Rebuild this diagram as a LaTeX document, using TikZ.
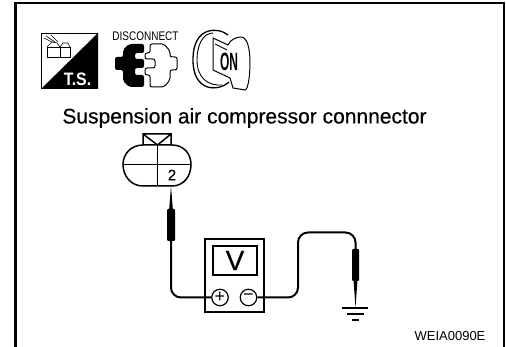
\documentclass[tikz,border=0pt]{standalone}
\usepackage{fontspec}
\setmainfont{Liberation Sans}
\newfontfamily\heavyfont{Liberation Sans}[FakeBold=0.4]
\usepackage{tikz}
\usetikzlibrary{calc}
\usetikzlibrary{positioning}

\tikzset{
	wire/.style={draw, line width=2pt, rounded corners=10pt},
	tip/.style={fill=black, draw=none},
	probe/.style={fill=black, draw=none, rounded corners=1pt},
	part/.style={draw, line width=1.5pt},
	jack/.style={draw, fill=white, circle, line width=1.2pt, minimum size=16.5pt, inner sep=0pt, font=\fontsize{18}{18}\selectfont},
}

\begin{document}
\begin{tikzpicture}[x=1pt, y=-1pt]
	\useasboundingbox (0,0) rectangle (506,347);
	\fill[white] (0,0) rectangle (506,347);
	% frame
	\draw[line width=2.6pt] (15.3,347) -- (15.3,3) -- (504,3) -- (504,347);

	% T.S. icon
	\fill (98,33) -- (98,89) -- (41,89) -- cycle;
	\draw[line width=1pt] (41.5,33.5) rectangle (97.5,88.5);
	\draw[line width=0.6pt] (47,47) rectangle (60,57) (60,47) rectangle (70,57);
	\draw[line width=0.6pt] (47,47) -- (52,42) -- (57,43) -- (60,47) (60,47) -- (63,43) -- (68,43) -- (70,47);
	\draw[line width=0.6pt] (55,42) -- (46,36) (52,42) -- (44,38) (58,42) -- (51,35);
	\node[text=white, font=\bfseries\fontsize{18}{18}\selectfont, inner sep=0pt] (tslabel) at (77.5,79) {\scalebox{0.88}[1]{T.S.}};

	% disconnect icon
	\node[font=\fontsize{12.5}{13}\selectfont, inner sep=0pt] (disc) at (145.5,36) {\scalebox{0.8}[1]{DISCONNECT}};
	\fill[rounded corners=2pt] (144,44) -- (129,44) -- (123,50) -- (123,57) -- (115,57) -- (115,70) -- (123,70) -- (123,81) -- (129,87) -- (144,87) -- (144,75) -- (135,75) -- (135,68) -- (144,68) -- (144,59) -- (135,59) -- (135,53) -- (144,53) -- cycle;
	\draw[line width=1pt, rounded corners=2pt] (150,44) -- (164,44) -- (170,51) -- (170,57) -- (177,57) -- (177,70) -- (170,70) -- (170,80) -- (164,87) -- (150,87) -- (150,75) -- (145,75) -- (145,68) -- (155,68) -- (155,59) -- (145,59) -- (145,53) -- (150,53) -- cycle;

	% key icon
	\draw[line width=1.3pt] (228,35) .. controls (220,28) and (193,24) .. (193,60) .. controls (193,92) and (218,92) .. (229,82);
	\draw[line width=0.9pt] (213,33) .. controls (203,33) and (197,45) .. (197,60) .. controls (197,78) and (208,86) .. (222,85);
	\draw[line width=1pt, fill=white] (213,38) -- (228,45) .. controls (230,40) and (236,37) .. (241,37) .. controls (247,37) and (250,48) .. (250,62) .. controls (250,76) and (248,90) .. (245,90) -- (233,88) -- (230,78) -- (213,70) -- cycle;
	\draw[line width=0.9pt] (215,44) -- (227,50);
	\node[font=\bfseries\fontsize{25}{25}\selectfont, inner sep=0pt] (onlabel) at (229,62) {\scalebox{0.48}[1]{ON}};

	% title
	\node[font=\heavyfont\fontsize{21}{21}\selectfont, inner sep=0pt] (title) at (244.5,118) {Suspension air compressor connnector};

	% connector
	\draw[part] (143,145) -- (143,134) -- (171,134) -- (171,145) (143,134) -- (157.5,145) -- (171,134);
	\draw[part] (143,145) -- (172,145) .. controls (184,145) and (191,154) .. (191,164.5) .. controls (191,176) and (184,186) .. (172,186) -- (143,186) .. controls (131,186) and (123,176) .. (123,164.5) .. controls (123,154) and (131,145) .. (143,145);
	\draw[part] (123,164.5) -- (191,164.5) (157.5,145) -- (157.5,186);
	\node[fill=white, font=\heavyfont\fontsize{15}{15}\selectfont, inner sep=0.5pt] (pin) at (172,175) {2};

	% meter
	\node[draw, line width=1.4pt, minimum width=59pt, minimum height=73pt, inner sep=0pt] (meter) at (234.5,275.5) {};
	\node[draw, line width=1.6pt, minimum width=44pt, minimum height=29pt, inner sep=0pt, font=\heavyfont\fontsize{28}{28}\selectfont] (screen) at (235,260.5) {V};
	\node[jack] (plus) at (220,297.5) {+};
	\node[jack] (minus) at (248.5,297.5) {\textminus};

	% probes and wires
	\coordinate (redtip) at (171,186);
	\coordinate (blacktip) at (355.5,308);
	\fill[tip] (redtip) -- (173,211) -- (169,211) -- cycle;
	\fill[probe] (167,209) rectangle (175,241);
	\coordinate (redend) at (171,241);
	\fill[tip] (blacktip) -- (353.5,280) -- (357.5,280) -- cycle;
	\fill[probe] (352,249) rectangle (359,281);
	\coordinate (blackend) at (355.5,249);
	\draw[wire] (redend) -- (171,297.5) -- (plus);
	\draw[wire] (minus) -- (298,297.5) -- (298,232.5) -- (355.5,232.5) -- (blackend);

	% ground
	\draw[line width=1.7pt] (342,308) -- (368,308);
	\draw[line width=1.7pt] (347,314) -- (364,314);
	\draw[line width=1.7pt] (352,320) -- (359,320);

	\node[font=\fontsize{13}{13}\selectfont, inner sep=0pt] (code) at (450,336) {WEIA0090E};
\end{tikzpicture}
\end{document}
